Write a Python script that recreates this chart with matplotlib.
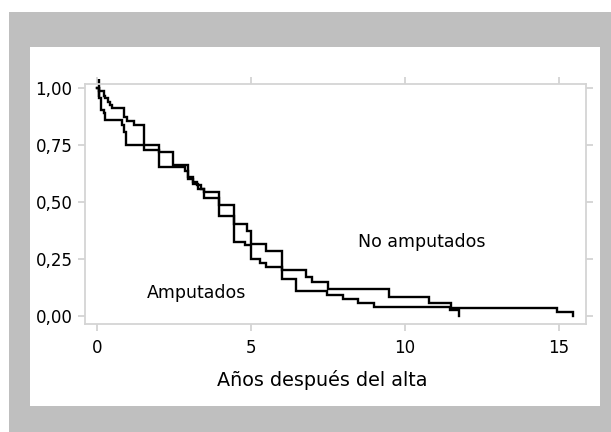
import matplotlib
matplotlib.use("Agg")
import matplotlib.pyplot as plt
import numpy as np
from matplotlib.patches import Rectangle

W, H = 611, 432

# Kaplan-Meier steps: event time (years) and survival after it
no_amp_t = [0.05, 0.21, 0.26, 0.35, 0.43, 0.48, 0.86, 0.97, 1.19, 1.51, 2.00, 2.47,
            2.96, 3.11, 3.24, 3.37, 3.47, 3.97, 4.45, 4.86, 4.99, 5.49, 6.00, 6.78,
            6.97, 7.49, 9.50, 10.80, 11.50, 14.96, 15.48]
no_amp_s = [0.987, 0.966, 0.955, 0.940, 0.925, 0.911, 0.874, 0.856, 0.837, 0.727, 0.720, 0.665,
            0.600, 0.587, 0.574, 0.556, 0.544, 0.490, 0.407, 0.373, 0.319, 0.288, 0.204, 0.175,
            0.149, 0.120, 0.087, 0.058, 0.039, 0.021, 0.0]

amp_t = [0.05, 0.12, 0.21, 0.26, 0.81, 0.88, 0.95, 2.00, 2.84, 2.96, 3.11, 3.28, 3.47,
         3.97, 4.45, 4.81, 4.99, 5.29, 5.49, 6.00, 6.46, 7.46, 7.98, 8.49, 9.00, 11.47, 11.77]
amp_s = [0.956, 0.903, 0.889, 0.859, 0.837, 0.808, 0.749, 0.654, 0.637, 0.609, 0.582, 0.556, 0.520,
         0.439, 0.326, 0.311, 0.253, 0.234, 0.216, 0.165, 0.113, 0.095, 0.077, 0.058, 0.040, 0.029, 0.0]

x_ticks = [0, 5, 10, 15]
y_ticks = [0.0, 0.25, 0.5, 0.75, 1.0]
y_labels = ["0,00", "0,25", "0,50", "0,75", "1,00"]

fig = plt.figure(figsize=(W / 100, H / 100), dpi=100)
fig.patch.set_facecolor("white")


def px_rect(x0, y0, x1, y1, color):
    fig.patches.append(Rectangle((x0 / W, 1 - y1 / H), (x1 - x0) / W, (y1 - y0) / H,
                                 transform=fig.transFigure, facecolor=color,
                                 edgecolor="none", zorder=-10))


px_rect(9, 11.5, W, H, "#bfbfbf")
px_rect(30, 47, 600, 406, "white")

ax = fig.add_axes([85 / W, 1 - 324 / H, (586 - 85) / W, (324 - 84) / H])
ax.set_facecolor("white")

for t, s in [(no_amp_t, no_amp_s), (amp_t, amp_s)]:
    tt = np.concatenate([[0.0], t])
    ss = np.concatenate([[1.0], s])
    ax.plot(tt, ss, drawstyle="steps-post", color="black", lw=1.7, solid_joinstyle="miter")

# start mark
ax.plot([0.05], [1.0], marker="|", markersize=13, markeredgewidth=1.7, color="black", clip_on=False)

ax.set_xlim(-0.397, 15.89)
ax.set_ylim(-0.033, 1.018)
ax.set_xticks(x_ticks)
ax.set_yticks(y_ticks)
ax.set_yticklabels(y_labels)

for sp in ax.spines.values():
    sp.set_color("#d4d4d4")
    sp.set_linewidth(1.3)
ax.tick_params(direction="out", length=5, width=1.2, color="#cfcfcf",
               labelsize=12, top=True, right=True, labeltop=False, labelright=False)
ax.tick_params(axis="x", pad=6)
ax.tick_params(axis="y", pad=4)

ax.set_xlabel("Años después del alta", fontsize=13.8, labelpad=6)
ax.xaxis.set_label_coords(0.473, -0.19)

ax.text(10.54, 0.327, "No amputados", fontsize=12.5, ha="center", va="center")
ax.text(3.24, 0.103, "Amputados", fontsize=12.5, ha="center", va="center")

fig.savefig("out.png", dpi=100)
